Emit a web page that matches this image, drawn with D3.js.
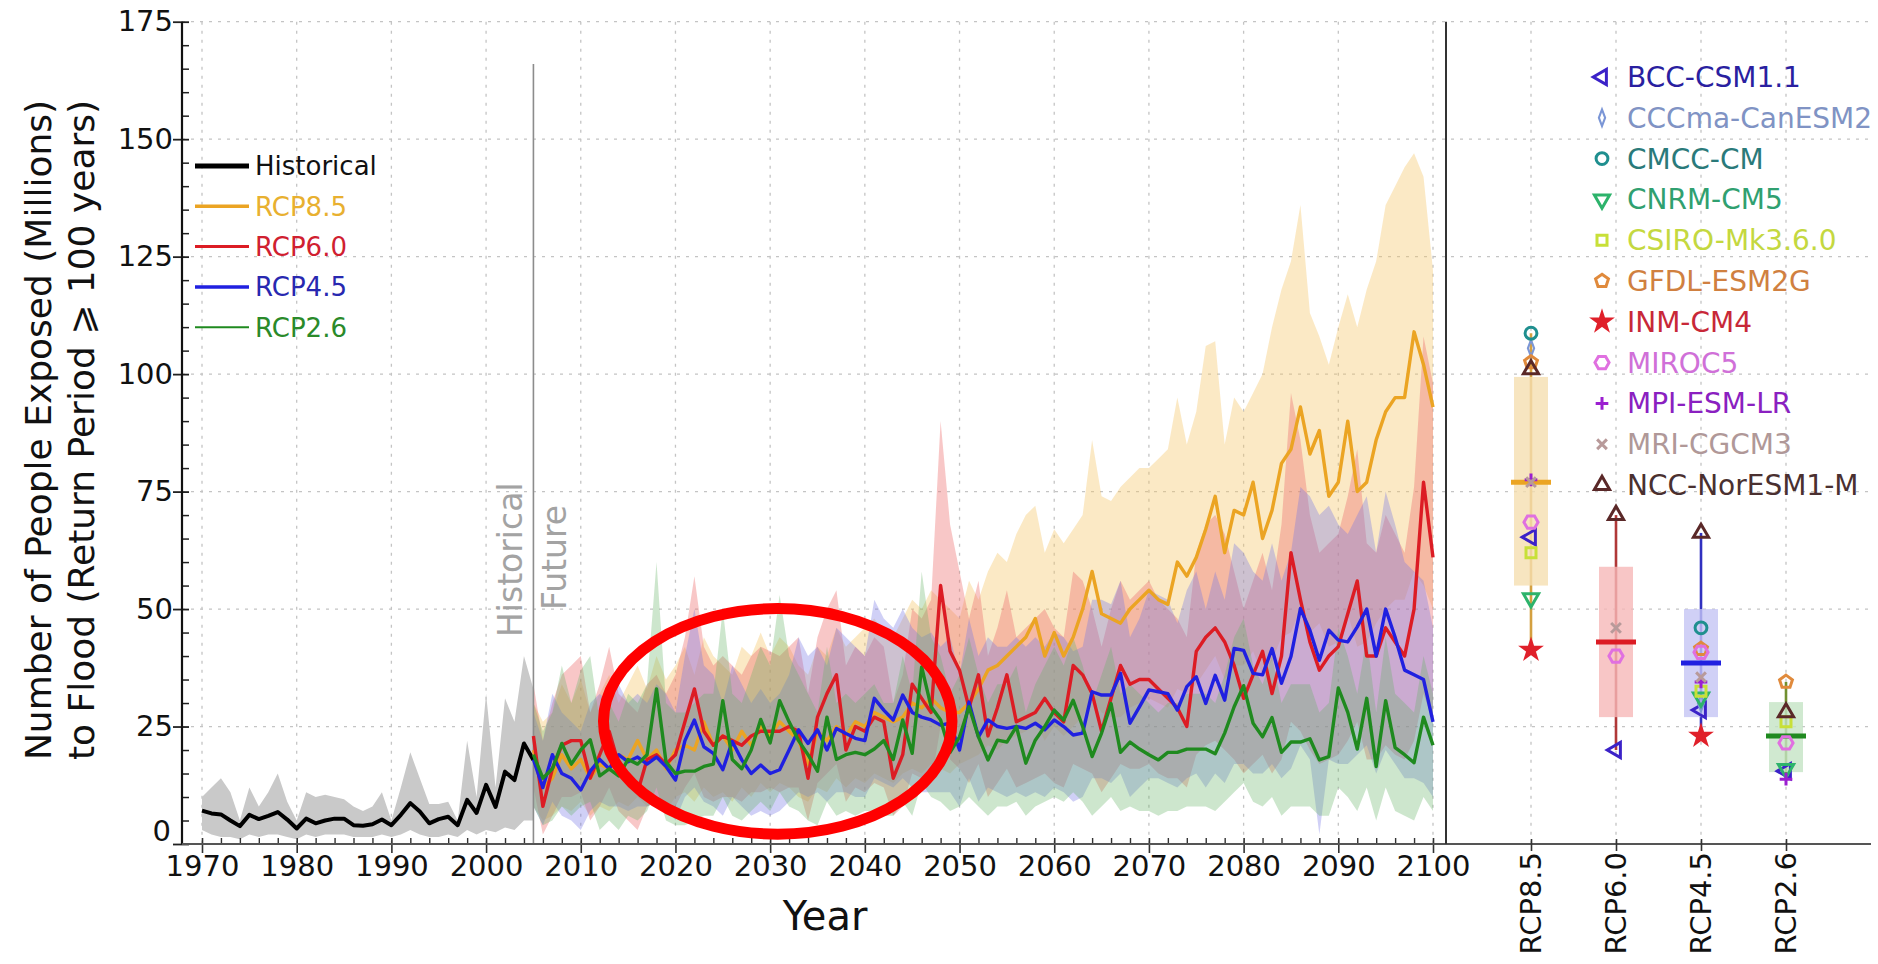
<!DOCTYPE html>
<meta charset="utf-8">
<style>
body{margin:0;background:#fff}
svg{font-family:"DejaVu Sans",sans-serif}
</style>
<svg width="1878" height="964"></svg>
<script src="https://d3js.org/d3.v7.min.js"></script>
<script>

// ---- data ----
var histYears = d3.range(1970, 2006);
var futYears = d3.range(2005, 2101);

var historical = [7.1, 6.5, 6.3, 5, 3.8, 6.2, 5.3, 6, 6.8, 5.2,
    3.3, 5.4, 4.4, 5, 5.4, 5.4, 4, 3.9, 4.2, 5.2,
    4, 6.2, 8.7, 6.9, 4.4, 5.3, 5.8, 4, 9.4, 6.6,
    12.6, 7.9, 15.4, 13.6, 21.4, 17.9];
var histHi = [10, 12, 14, 11, 5, 12, 8, 11, 15, 9,
    5, 11, 10, 10.5, 10, 9.5, 8, 7, 8, 11,
    5, 12, 19.5, 14, 8.5, 8.5, 9, 5, 22, 10,
    32, 12, 31, 26, 40, 33];
var histLo = [3, 2, 1.5, 1.5, 1, 2, 1.5, 2, 2, 1.5,
    1, 2, 1.5, 2, 2, 2, 1.5, 1.5, 1.5, 2,
    1.5, 2, 3, 2, 1.5, 1.5, 2, 1.5, 3, 2,
    3, 2.5, 3.5, 3, 5, 5];

var rcp85 = [20, 12, 14, 19, 16, 18, 14, 17, 16, 19,
    18, 22, 18, 20, 16, 20, 21, 20, 26, 21,
    23, 20, 24, 21, 25, 23, 26, 24, 22, 17,
    24, 22, 25, 23, 26, 25, 28, 27, 26, 27,
    30, 29, 31, 29, 28, 28, 30, 33, 37, 38,
    40, 42, 44, 48, 40, 45, 40, 44, 50, 58,
    49, 48, 47, 50, 52, 54, 52, 51, 60, 57,
    61, 67, 74, 62, 71, 70, 77, 65, 71, 81,
    84, 93, 83, 88, 74, 77, 90, 75, 77, 86,
    92, 95, 95, 109, 102, 93];
var rcp85Hi = [30, 26, 28, 34, 30, 35, 28, 32, 36, 30,
    34, 38, 33, 40, 35, 38, 42, 36, 44, 40,
    38, 36, 42, 40, 45, 40, 44, 42, 38, 36,
    42, 40, 46, 42, 44, 46, 48, 45, 44, 48,
    52, 50, 54, 52, 50, 48, 56, 52, 58, 62,
    60, 66, 70, 72, 62, 67, 64, 67, 70, 86,
    74, 73, 76, 78, 80, 80, 82, 84, 95, 85,
    92, 106, 107, 85, 95, 92, 96, 100, 110, 118,
    124, 136, 113, 108, 102, 110, 117, 110, 118, 124,
    136, 140, 144, 147, 142, 122];
var rcp85Lo = [8, 5, 6, 8, 7, 9, 6, 8, 7, 9,
    8, 10, 8, 9, 7, 10, 11, 9, 12, 10,
    11, 9, 12, 10, 13, 11, 13, 12, 10, 9,
    12, 11, 14, 12, 14, 13, 15, 14, 13, 15,
    16, 15, 17, 16, 15, 17, 18, 19, 21, 20,
    22, 23, 24, 26, 22, 25, 23, 25, 27, 31,
    28, 27, 27, 29, 30, 31, 30, 29, 33, 32,
    34, 37, 40, 35, 38, 38, 41, 36, 39, 44,
    45, 50, 45, 47, 42, 43, 49, 42, 43, 47,
    50, 52, 52, 58, 55, 50];

var rcp60 = [23, 8, 16, 21, 22, 22, 14, 19, 24, 17,
    14, 11, 18, 19, 17, 19, 26, 33, 24, 21,
    23, 22, 21, 23, 24, 24, 24, 25, 24, 14,
    27, 32, 36, 20, 25, 24, 27, 26, 14, 19,
    34, 31, 28, 55, 41, 37, 29, 36, 23, 29,
    36, 26, 27, 28, 31, 28, 26, 38, 36, 32,
    24, 31, 38, 34, 35, 35, 33, 31, 29, 25,
    41, 44, 46, 43, 38, 31, 36, 41, 32, 40,
    62, 52, 43, 37, 40, 42, 49, 56, 40, 40,
    46, 43, 40, 50, 77, 61];
var rcp60Hi = [34, 22, 30, 36, 38, 40, 28, 34, 42, 32,
    30, 28, 34, 36, 32, 36, 44, 57, 42, 38,
    40, 38, 36, 40, 42, 41, 40, 42, 44, 32,
    44, 50, 54, 38, 42, 40, 44, 42, 30, 36,
    50, 48, 52, 90, 68, 58, 48, 56, 40, 46,
    54, 44, 46, 48, 50, 46, 44, 58, 56, 50,
    42, 50, 56, 52, 54, 56, 52, 50, 48, 44,
    62, 68, 70, 66, 58, 50, 56, 62, 54, 68,
    96, 86, 70, 62, 64, 66, 74, 84, 64, 62,
    70, 66, 62, 76, 108, 98];
var rcp60Lo = [12, 2, 6, 10, 10, 11, 5, 8, 12, 7,
    5, 3, 8, 9, 7, 8, 12, 15, 10, 9,
    10, 10, 9, 11, 11, 12, 11, 12, 12, 5,
    13, 15, 17, 9, 12, 11, 13, 12, 6, 8,
    15, 14, 13, 25, 18, 16, 13, 17, 10, 13,
    16, 12, 13, 14, 15, 13, 12, 17, 16, 15,
    11, 14, 17, 16, 16, 17, 15, 14, 14, 12,
    19, 21, 22, 20, 18, 15, 17, 19, 15, 18,
    26, 24, 20, 17, 18, 19, 22, 26, 18, 18,
    21, 19, 18, 22, 32, 26];

var rcp45 = [18, 12, 19, 15, 14, 11.5, 15.5, 18, 16, 19,
    17.5, 18.5, 17, 18.5, 16.5, 13.6, 22, 26.4, 20.7, 19.3,
    15.8, 21.8, 17.9, 15, 16.8, 15, 15.8, 20, 24.3, 21.4,
    24.3, 20, 24.6, 23.5, 22.5, 22, 31, 28.5, 26.4, 31.7,
    28, 27, 26.4, 25.3, 25.7, 20, 30.2, 22.8, 26.4, 25,
    24.6, 25, 24.6, 25.7, 24.3, 26.4, 25, 23.2, 23.6, 32.4,
    31.7, 31.7, 36.3, 25.7, 29.2, 32.8, 32.4, 32, 28.5, 33.5,
    35.6, 29.9, 35.9, 30.6, 41.6, 41.2, 36.3, 36, 41.6, 34.2,
    39.9, 50.1, 45.5, 39.1, 45.5, 43.4, 43, 46.2, 50, 40,
    50, 44, 37, 36, 35, 26];
var rcp45Hi = [28, 22, 32, 28, 26, 24, 30, 32, 30, 34,
    30, 32, 30, 34, 32, 28, 40, 50, 38, 36,
    30, 38, 34, 30, 33, 30, 32, 36, 44, 40,
    42, 38, 46, 44, 42, 40, 52, 48, 46, 50,
    46, 44, 45, 42, 44, 36, 48, 40, 44, 42,
    42, 44, 42, 44, 42, 45, 44, 41, 42, 52,
    52, 51, 56, 44, 48, 54, 53, 52, 47, 54,
    58, 50, 58, 52, 64, 62, 58, 56, 64, 56,
    62, 76, 74, 70, 72, 68, 66, 70, 74, 62,
    75, 68, 60, 58, 56, 46];
var rcp45Lo = [8, 4, 9, 6, 5, 3, 7, 9, 8, 8,
    7, 8, 8, 9, 8, 5, 10, 12, 9, 8,
    6, 10, 8, 6, 7, 6, 7, 9, 11, 10,
    11, 9, 11, 11, 10, 10, 14, 13, 12, 14,
    12, 11, 11, 11, 11, 8, 14, 9, 12, 11,
    10, 11, 10, 11, 10, 12, 11, 9, 10, 14,
    14, 13, 15, 10, 12, 14, 14, 13, 12, 14,
    15, 12, 15, 13, 17, 17, 15, 15, 17, 14,
    16, 21, 18, 2, 18, 17, 17, 19, 21, 15,
    20, 17, 14, 14, 13, 10];

var rcp26 = [19, 14, 16, 21.4, 17, 20, 22.2, 14.5, 16, 14.5,
    18, 17, 19, 33, 17.5, 15, 15.5, 15.5, 16.5, 17,
    30.5, 18, 16, 20, 26.5, 21.5, 30.5, 26, 22, 19,
    15.5, 27, 18, 19, 19.5, 19, 20.2, 22, 18, 26.4,
    19.3, 37.7, 29.2, 26.4, 19.5, 22.8, 29.2, 22.8, 17.9, 22.1,
    21.7, 25, 17.2, 22.1, 25, 28.5, 26.4, 30.6, 25, 18.6,
    23.6, 29.9, 19.5, 21.7, 20.2, 19, 17.9, 19.5, 19.5, 20.2,
    20.2, 20.2, 19.2, 23.6, 29.2, 33.7, 25.7, 22.8, 26.9, 19.5,
    21.7, 21.7, 22.4, 17.9, 18.6, 33.2, 28, 20.2, 31, 16.5,
    30.5, 20.5, 19, 17.3, 27, 21];
var rcp26Hi = [30, 24, 28, 38, 30, 37, 40, 26, 30, 26,
    32, 30, 34, 60, 30, 28, 28, 30, 32, 32,
    50, 32, 30, 36, 42, 38, 53, 40, 36, 32,
    28, 42, 30, 32, 30, 32, 34, 30, 30, 40,
    32, 58, 44, 40, 32, 36, 44, 36, 30, 34,
    34, 38, 28, 34, 38, 42, 38, 44, 38, 30,
    36, 42, 32, 34, 32, 30, 28, 30, 30, 32,
    32, 32, 30, 36, 44, 48, 38, 34, 40, 30,
    34, 34, 34, 28, 30, 46, 40, 32, 44, 28,
    44, 32, 30, 28, 40, 32];
var rcp26Lo = [8, 4, 5, 8, 6, 8, 9, 3, 5, 3,
    6, 5, 7, 12, 5, 4, 4, 5, 6, 6,
    10, 6, 5, 7, 9, 7, 11, 8, 7, 5,
    4, 9, 6, 7, 6, 7, 7, 6, 6, 9,
    6, 13, 10, 9, 7, 8, 10, 8, 6, 8,
    8, 9, 6, 8, 9, 10, 9, 11, 9, 6,
    8, 10, 7, 8, 7, 7, 6, 7, 7, 8,
    8, 8, 7, 9, 11, 13, 9, 8, 10, 6,
    8, 8, 8, 6, 6, 12, 10, 7, 12, 5,
    12, 7, 6, 5, 10, 7];

var scenarios = ["RCP8.5", "RCP6.0", "RCP4.5", "RCP2.6"];
var models = ["BCC-CSM1.1", "CCCma-CanESM2", "CMCC-CM", "CNRM-CM5", "CSIRO-Mk3.6.0",
    "GFDL-ESM2G", "INM-CM4", "MIROC5", "MPI-ESM-LR", "MRI-CGCM3", "NCC-NorESM1-M"];
// late-century value per model, in model order (null = not shown)
var end85 = [65.3, 105.5, 108.7, 52.3, 62, 102.5, 41.3, 68.5, 77.5, 77, 101];
var end60 = [20, null, null, null, null, null, null, 40, null, 46, 70];
var end45 = [28.5, 30, 46, 31.2, 32.5, 41.5, 23, 40.8, 34.5, 35.5, 66.2];
var end26 = [15.5, null, null, 16, 26, 34.5, null, 21.5, 13.8, null, 28];
var boxMid = [77, 43, 38.5, 23];
var boxLow = [55, 27, 27, 15.3];
var boxHigh = [99.4, 59, 50, 30.2];

var yTicks = [0, 25, 50, 75, 100, 125, 150, 175];
var xTicks = [1970, 1980, 1990, 2000, 2010, 2020, 2030, 2040, 2050, 2060, 2070, 2080, 2090, 2100];

// annotation ellipse, in data units
var noteYear = 2030.8, noteValue = 26.1, noteRx = 18.4, noteRy = 24;

// ---- styles ----
var lineColor = ["#eba423", "#dc1c24", "#2020e0", "#1f8a1f"];
var bandColor = ["#f5c566", "#ec6c6c", "#7474e4", "#68b468"];
var bandOpacity = [0.38, 0.38, 0.34, 0.33];
var legendText = ["#e8b030", "#d02030", "#2828b0", "#2a8a2a"];
var boxColor = ["#f5deb0", "#f6b8b8", "#c4c4f4", "#c4e4c4"];
var whiskColor = ["#d4a040", "#b03838", "#3030c0", "#709030"];
var modelColor = ["#3b22c8", "#7b96d6", "#1f8f8f", "#2db36b", "#c8e038",
    "#e08a3c", "#e0202a", "#e070e0", "#9b1fd0", "#b89a9a", "#5a2828"];
var modelText = ["#2a1fa0", "#8093c4", "#2a7a7a", "#30a070", "#c4d840",
    "#d08040", "#c82838", "#d070d8", "#8a20c0", "#b09898", "#4a3030"];

var svg = d3.select("svg");
var x = d3.scaleLinear().domain([1970, 2100]).range([202, 1433]);
var y = d3.scaleLinear().domain([0, 175]).range([844, 21.7]);
var xr = d3.scalePoint().domain(scenarios).range([1446, 1871]).padding(1);
var left = 182, divider = 1446, right = 1871;

// grid
var grid = svg.append("g").attr("stroke", "#c4c4c4").attr("stroke-width", 1.3).attr("stroke-dasharray", "3,6");
grid.selectAll(".h").data(yTicks.slice(1)).enter().append("line")
    .attr("x1", left).attr("x2", right).attr("y1", d => y(d)).attr("y2", d => y(d));
grid.selectAll(".v").data(xTicks).enter().append("line")
    .attr("x1", d => x(d)).attr("x2", d => x(d)).attr("y1", y(175)).attr("y2", y(0));
grid.selectAll(".c").data(scenarios).enter().append("line")
    .attr("x1", d => xr(d)).attr("x2", d => xr(d)).attr("y1", y(175)).attr("y2", y(0));

function rows(years, v, lo, hi) {
    return years.map(function(yr, i) { return {year: yr, v: v[i], lo: lo[i], hi: hi[i]}; });
}
var hist = rows(histYears, historical, histLo, histHi);
var fut = [rows(futYears, rcp85, rcp85Lo, rcp85Hi), rows(futYears, rcp60, rcp60Lo, rcp60Hi),
    rows(futYears, rcp45, rcp45Lo, rcp45Hi), rows(futYears, rcp26, rcp26Lo, rcp26Hi)];

var area = d3.area().x(d => x(d.year)).y0(d => y(d.lo)).y1(d => y(d.hi));
var line = d3.line().x(d => x(d.year)).y(d => y(d.v));

svg.append("path").attr("d", area(hist)).attr("fill", "#c9c9c9");
fut.forEach(function(s, i) {
    svg.append("path").attr("d", area(s)).attr("fill", bandColor[i]).attr("fill-opacity", bandOpacity[i]);
});

// historical / future divider
svg.append("line").attr("x1", x(2005)).attr("x2", x(2005)).attr("y1", y(166)).attr("y2", y(0))
    .attr("stroke", "#8c8c8c").attr("stroke-width", 1.6);
svg.append("text").attr("transform", "translate(" + (x(2005) - 11) + "," + 637 + ") rotate(-90)")
    .style("font-size", "33px").attr("fill", "#a3a3a3").text("Historical");
svg.append("text").attr("transform", "translate(" + (x(2005) + 33) + "," + 610 + ") rotate(-90)")
    .style("font-size", "33px").attr("fill", "#a3a3a3").text("Future");

svg.append("path").attr("d", line(hist)).attr("fill", "none").attr("stroke", "#000")
    .attr("stroke-width", 4).attr("stroke-linejoin", "round");
fut.forEach(function(s, i) {
    svg.append("path").attr("d", line(s)).attr("fill", "none").attr("stroke", lineColor[i])
        .attr("stroke-width", 3.4).attr("stroke-linejoin", "round");
});

// axes
var minorX = d3.range(1970, 2101, 2).filter(d => d % 10 != 0);
var minorY = d3.range(0, 176, 5).filter(d => d % 25 != 0);

var gx = svg.append("g").attr("transform", "translate(0," + y(0) + ")")
    .call(d3.axisBottom(x).tickValues(xTicks).tickFormat(d3.format("d")).tickSize(9).tickPadding(2));
gx.select(".domain").remove();
gx.selectAll(".tick line").attr("y1", -6).attr("stroke", "#333").attr("stroke-width", 1.6);
gx.selectAll("text").style("font-size", "29px").attr("fill", "#111").attr("font-family", "DejaVu Sans");
var gxm = svg.append("g").attr("transform", "translate(0," + y(0) + ")")
    .call(d3.axisBottom(x).tickValues(minorX).tickSize(-6).tickFormat(""));
gxm.select(".domain").remove();
gxm.selectAll(".tick line").attr("stroke", "#333").attr("stroke-width", 1.4);

var gy = svg.append("g").attr("transform", "translate(" + left + ",0)")
    .call(d3.axisLeft(y).tickValues(yTicks).tickSize(9).tickPadding(0));
gy.select(".domain").remove();
gy.selectAll(".tick line").attr("x1", 7).attr("stroke", "#222").attr("stroke-width", 1.8);
gy.selectAll("text").style("font-size", "29px").attr("fill", "#111").attr("font-family", "DejaVu Sans");
gy.selectAll(".tick").filter(d => d === 0).select("text").attr("dy", "-0.12em").attr("x", -11);
var gym = svg.append("g").attr("transform", "translate(" + left + ",0)")
    .call(d3.axisLeft(y).tickValues(minorY).tickSize(-7).tickFormat(""));
gym.select(".domain").remove();
gym.selectAll(".tick line").attr("stroke", "#222").attr("stroke-width", 1.5);

svg.append("line").attr("x1", left).attr("x2", left).attr("y1", y(175)).attr("y2", y(0))
    .attr("stroke", "#111").attr("stroke-width", 2.2);
svg.append("line").attr("x1", left).attr("x2", right).attr("y1", y(0)).attr("y2", y(0))
    .attr("stroke", "#555").attr("stroke-width", 2);
svg.append("line").attr("x1", divider).attr("x2", divider).attr("y1", y(175)).attr("y2", y(0))
    .attr("stroke", "#333").attr("stroke-width", 2);

// right panel category axis
var gr = svg.append("g").attr("transform", "translate(0," + y(0) + ")")
    .call(d3.axisBottom(xr).tickSize(7).tickFormat(""));
gr.select(".domain").remove();
gr.selectAll(".tick line").attr("y1", -5).attr("stroke", "#333").attr("stroke-width", 1.6);
svg.selectAll(".cat").data(scenarios).enter().append("text")
    .attr("transform", d => "translate(" + xr(d) + "," + 852 + ") rotate(-90)")
    .attr("text-anchor", "end").attr("dy", "0.36em")
    .style("font-size", "29px").attr("fill", "#111").text(d => d);

// titles
svg.append("text").attr("transform", "translate(51,430) rotate(-90)").attr("text-anchor", "middle")
    .style("font-size", "36px").attr("fill", "#111").text("Number of People Exposed (Millions)");
svg.append("text").attr("transform", "translate(94,430) rotate(-90)").attr("text-anchor", "middle")
    .style("font-size", "36px").attr("fill", "#111").text("to Flood (Return Period \u2A7E 100 years)");
svg.append("text").attr("x", 825).attr("y", 930).attr("text-anchor", "middle")
    .style("font-size", "40px").attr("fill", "#111").text("Year");

// left legend
var legNames = ["Historical"].concat(scenarios);
var legColors = ["#000"].concat(lineColor);
var legTextColors = ["#111"].concat(legendText);
var legWidths = [5, 3.5, 3, 3.5, 2];
legNames.forEach(function(n, i) {
    var ly = 166 + i * 40.3;
    svg.append("line").attr("x1", 195).attr("x2", 249).attr("y1", ly).attr("y2", ly)
        .attr("stroke", legColors[i]).attr("stroke-width", legWidths[i]);
    svg.append("text").attr("x", 255).attr("y", ly).attr("dy", "0.36em")
        .style("font-size", "26px").attr("fill", legTextColors[i]).text(n);
});

// marker shapes
function poly(n, rot) {
    return {draw: function(ctx, size) {
        var r = Math.sqrt(size / 2.4);
        for (var k = 0; k < n; k++) {
            var a = rot + k * 2 * Math.PI / n;
            if (k == 0) ctx.moveTo(r * Math.cos(a), r * Math.sin(a));
            else ctx.lineTo(r * Math.cos(a), r * Math.sin(a));
        }
        ctx.closePath();
    }};
}
var plus = {draw: function(ctx, size) {
    var r = Math.sqrt(size) / 2;
    ctx.moveTo(-r, 0); ctx.lineTo(r, 0); ctx.moveTo(0, -r); ctx.lineTo(0, r);
}};
var times = {draw: function(ctx, size) {
    var r = Math.sqrt(size) / 2.6;
    ctx.moveTo(-r, -r); ctx.lineTo(r, r); ctx.moveTo(-r, r); ctx.lineTo(r, -r);
}};
var shapes = [
    {type: d3.symbolTriangle, size: 100, rot: -90},
    {type: d3.symbolDiamond, size: 80, sx: 0.65},
    {type: d3.symbolCircle, size: 110},
    {type: d3.symbolTriangle, size: 100, rot: 180},
    {type: d3.symbolSquare, size: 100},
    {type: poly(5, -Math.PI / 2), size: 110},
    {type: d3.symbolStar, size: 85, filled: true},
    {type: poly(6, 0), size: 120},
    {type: plus, size: 160},
    {type: times, size: 160},
    {type: d3.symbolTriangle, size: 100}
];
function marker(i, cx, cy) {
    var s = shapes[i];
    svg.append("path").attr("d", d3.symbol().type(s.type).size(s.size)())
        .attr("transform", "translate(" + cx + "," + cy + ")" + (s.rot ? " rotate(" + s.rot + ")" : "") +
            (s.sx ? " scale(" + s.sx + ",1)" : ""))
        .attr("fill", s.filled ? modelColor[i] : "none")
        .attr("stroke", modelColor[i]).attr("stroke-width", 3);
}

// box summaries
var ends = [end85, end60, end45, end26];
scenarios.forEach(function(sc, i) {
    var cx = xr(sc);
    var vals = ends[i].filter(v => v != null);
    svg.append("line").attr("x1", cx).attr("x2", cx).attr("y1", y(d3.min(vals))).attr("y2", y(d3.max(vals)))
        .attr("stroke", whiskColor[i]).attr("stroke-width", 2.6);
    svg.append("rect").attr("x", cx - 17).attr("width", 34)
        .attr("y", y(boxHigh[i])).attr("height", y(boxLow[i]) - y(boxHigh[i]))
        .attr("fill", boxColor[i]).attr("fill-opacity", 0.8);
    svg.append("line").attr("x1", cx - 20).attr("x2", cx + 20).attr("y1", y(boxMid[i])).attr("y2", y(boxMid[i]))
        .attr("stroke", lineColor[i]).attr("stroke-width", 5);
    ends[i].forEach(function(v, m) { if (v != null) marker(m, cx, y(v)); });
});

// model legend
models.forEach(function(n, i) {
    var ly = 77 + i * 40.8;
    marker(i, 1602, ly);
    svg.append("text").attr("x", 1627).attr("y", ly).attr("dy", "0.36em")
        .style("font-size", "28px").attr("fill", modelText[i]).text(n);
});

// red annotation ellipse
svg.append("ellipse").attr("cx", x(noteYear)).attr("cy", y(noteValue))
    .attr("rx", x(noteYear + noteRx) - x(noteYear)).attr("ry", y(0) - y(noteRy))
    .attr("fill", "none").attr("stroke", "#ff0000").attr("stroke-width", 11);

</script>
